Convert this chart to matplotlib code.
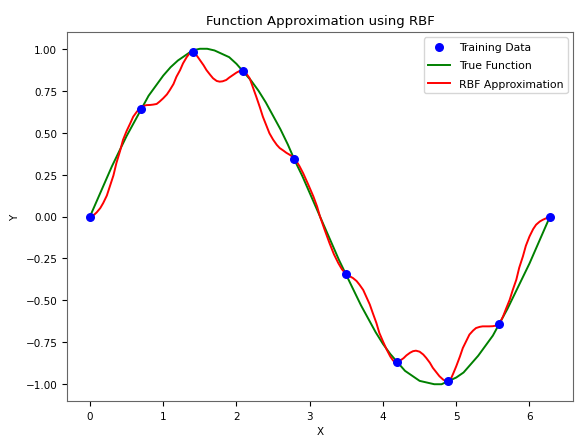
import numpy as np
import matplotlib
matplotlib.use("Agg")
import matplotlib.pyplot as plt

# training samples
train_x = [0.0, 0.70, 1.40, 2.09, 2.79, 3.49, 4.19, 4.89, 5.59, 6.28]
train_y = [0.0, 0.64, 0.98, 0.87, 0.34, -0.34, -0.87, -0.98, -0.64, 0.0]

# true function
true_x = [0.0, 0.1, 0.2, 0.3, 0.4, 0.5, 0.6, 0.7, 0.8, 0.9, 1.0, 1.1, 1.2, 1.3,
          1.4, 1.5, 1.6, 1.7, 1.8, 1.9, 2.0, 2.1, 2.2, 2.3, 2.4, 2.5, 2.6, 2.7,
          2.8, 2.9, 3.0, 3.1, 3.2, 3.3, 3.4, 3.5, 3.6, 3.7, 3.8, 3.9, 4.0, 4.1,
          4.2, 4.3, 4.4, 4.5, 4.6, 4.7, 4.8, 4.9, 5.0, 5.1, 5.2, 5.3, 5.4, 5.5,
          5.6, 5.7, 5.8, 5.9, 6.0, 6.1, 6.2, 6.28]
true_y = [0.00, 0.10, 0.20, 0.30, 0.39, 0.48, 0.56, 0.64, 0.72, 0.78, 0.84, 0.89,
          0.93, 0.96, 0.99, 1.00, 1.00, 0.99, 0.97, 0.95, 0.91, 0.86, 0.81, 0.75,
          0.68, 0.60, 0.52, 0.43, 0.33, 0.24, 0.14, 0.04, -0.06, -0.16, -0.26,
          -0.35, -0.44, -0.53, -0.61, -0.69, -0.76, -0.82, -0.87, -0.92, -0.95,
          -0.98, -0.99, -1.00, -1.00, -0.98, -0.96, -0.93, -0.88, -0.83, -0.77,
          -0.71, -0.63, -0.55, -0.46, -0.37, -0.28, -0.18, -0.08, 0.00]

# RBF approximation
rbf_x = [0.0, 0.05, 0.09, 0.14, 0.18, 0.23, 0.27, 0.32, 0.36, 0.41, 0.45, 0.50,
         0.55, 0.59, 0.64, 0.68, 0.73, 0.77, 0.82, 0.86, 0.91, 0.95, 1.0, 1.05,
         1.09, 1.14, 1.18, 1.23, 1.27, 1.32, 1.36, 1.39, 1.42, 1.46, 1.5, 1.55,
         1.59, 1.64, 1.68, 1.73, 1.77, 1.81, 1.86, 1.9, 1.95, 2.0, 2.05, 2.09,
         2.13, 2.18, 2.22, 2.27, 2.32, 2.36, 2.41, 2.45, 2.5, 2.55, 2.59, 2.64,
         2.68, 2.73, 2.77, 2.80, 2.86, 2.91, 2.98, 3.05, 3.1, 3.14, 3.2, 3.27,
         3.33, 3.39, 3.44, 3.49, 3.54, 3.59, 3.64, 3.68, 3.73, 3.77, 3.82, 3.86,
         3.91, 3.95, 4.0, 4.05, 4.1, 4.14, 4.19, 4.23, 4.28, 4.32, 4.37, 4.41,
         4.45, 4.5, 4.55, 4.59, 4.64, 4.68, 4.73, 4.77, 4.82, 4.86, 4.89, 4.93,
         4.96, 5.0, 5.05, 5.09, 5.14, 5.18, 5.23, 5.27, 5.32, 5.36, 5.41, 5.45,
         5.5, 5.55, 5.59, 5.64, 5.68, 5.73, 5.77, 5.82, 5.86, 5.91, 5.95, 6.0,
         6.05, 6.09, 6.14, 6.18, 6.23, 6.28]
rbf_y = [0.0, 0.008, 0.024, 0.05, 0.08, 0.125, 0.179, 0.245, 0.318, 0.39, 0.456,
         0.51, 0.556, 0.595, 0.625, 0.645, 0.659, 0.664, 0.665, 0.667, 0.671,
         0.685, 0.705, 0.728, 0.754, 0.79, 0.833, 0.873, 0.913, 0.95, 0.973,
         0.978, 0.974, 0.958, 0.933, 0.902, 0.873, 0.845, 0.824, 0.808, 0.804,
         0.806, 0.814, 0.828, 0.843, 0.858, 0.869, 0.870, 0.855, 0.824, 0.775,
         0.714, 0.65, 0.595, 0.54, 0.496, 0.458, 0.427, 0.408, 0.393, 0.38, 0.367,
         0.355, 0.343, 0.30, 0.258, 0.19, 0.119, 0.06, 0.0, -0.075, -0.159,
         -0.225, -0.278, -0.315, -0.341, -0.355, -0.367, -0.385, -0.407, -0.438,
         -0.476, -0.525, -0.575, -0.635, -0.694, -0.745, -0.793, -0.835, -0.86,
         -0.867, -0.86, -0.845, -0.828, -0.812, -0.803, -0.80, -0.806, -0.823,
         -0.843, -0.872, -0.902, -0.93, -0.952, -0.972, -0.982, -0.986, -0.965,
         -0.935, -0.893, -0.835, -0.784, -0.74, -0.704, -0.68, -0.665, -0.658,
         -0.655, -0.655, -0.655, -0.654, -0.65, -0.64, -0.595, -0.55, -0.496,
         -0.44, -0.377, -0.305, -0.238, -0.175, -0.119, -0.075, -0.049, -0.03,
         -0.02, -0.01, 0.0]

plt.rcParams['font.size'] = 7.5

fig = plt.figure(figsize=(5.75, 4.39), dpi=100)
ax = fig.add_axes([67/575, 37/439, 506/575, 369/439])

ax.scatter(train_x, train_y, color='blue', s=30, label='Training Data', zorder=3)
ax.plot(true_x, true_y, color='green', lw=1.4, label='True Function')
ax.plot(rbf_x, rbf_y, color='red', lw=1.4, label='RBF Approximation')

ax.set_title('Function Approximation using RBF', fontsize=9.5)
ax.set_xlabel('X')
ax.set_ylabel('Y')
ax.legend(loc='upper right', fontsize=7.8, labelspacing=0.8)

for sp in ax.spines.values():
    sp.set_color('#666666')

fig.savefig('out.png', dpi=100)
